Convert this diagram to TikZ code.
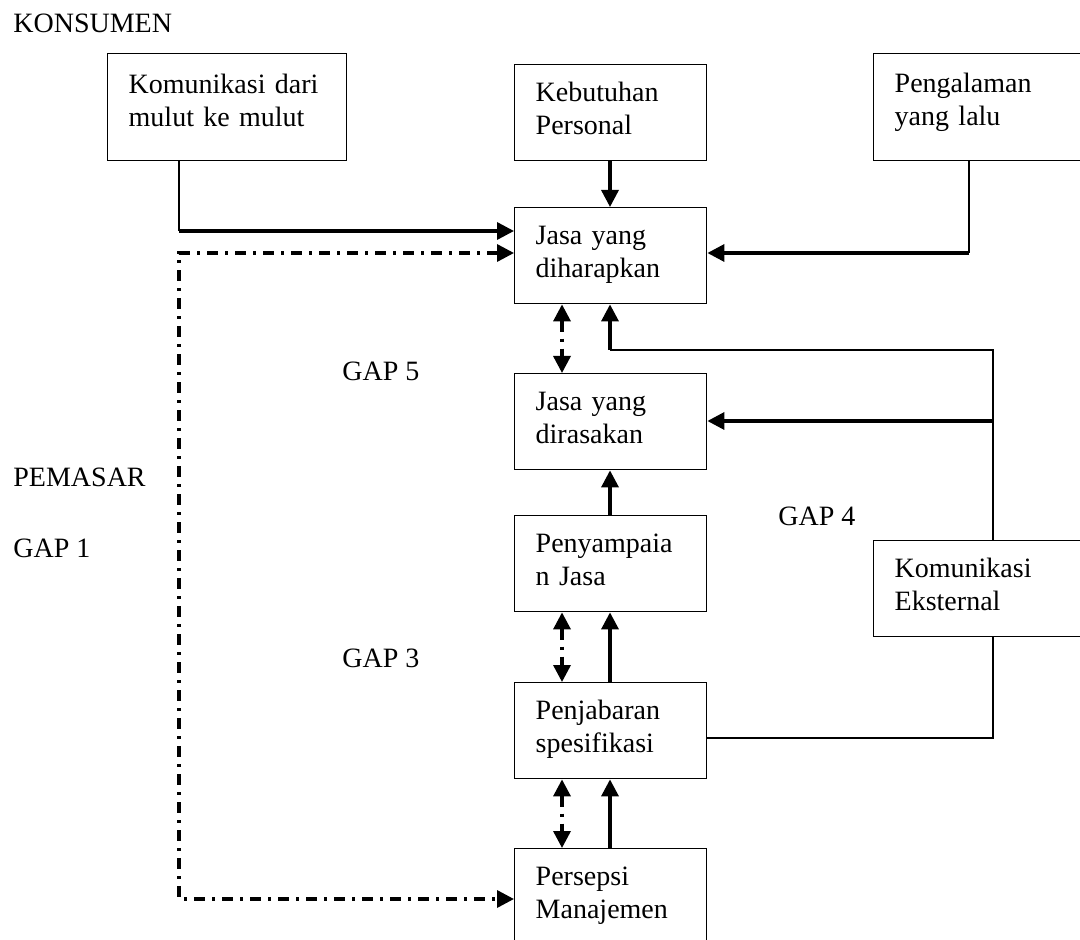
\documentclass[tikz,border=0pt]{standalone}
\usepackage{fontspec}
\setmainfont{Liberation Serif}
\usetikzlibrary{arrows.meta}
\usetikzlibrary{positioning}

\tikzset{
  kotak/.style={draw, line width=0.7pt, anchor=north west, align=left,
    inner xsep=10.5pt, inner ysep=0pt, text height=18.5pt, text depth=29.5pt,
    text width=75pt},
  garis/.style={line width=0.65pt},
  tebal/.style={line width=1.7pt},
  panah/.style={tebal, -{Triangle[length=8.5pt,width=8.5pt]}},
  gap/.style={tebal, dash pattern=on 5.5pt off 3.5pt on 1.5pt off 3.5pt,
    {Triangle[length=8.5pt,width=8.5pt]}-{Triangle[length=8.5pt,width=8.5pt]}},
  teks/.style={anchor=base west, inner sep=0pt}
}

\begin{document}
\begin{tikzpicture}[x=0.5pt, y=-0.5pt, font=\fontsize{14}{16.5}\selectfont]
      \useasboundingbox (0,0) rectangle (1080,940);

      % kotak-kotak
      \node[kotak, text width=98.5pt, text height=20pt, text depth=33.5pt] (mulut) at (107,53) {Komunikasi dari\\mulut ke mulut};
      \node[kotak] (personal) at (514,64) {Kebutuhan\\Personal};
      \node[kotak, text width=90pt, text height=19.5pt, text depth=34pt] (lalu) at (873,53) {Pengalaman\\yang lalu};
      \node[kotak] (harap) at (514,207) {Jasa yang\\diharapkan};
      \node[kotak] (rasa) at (514,373) {Jasa yang\\dirasakan};
      \node[kotak] (sampai) at (514,515) {Penyampaia\\n Jasa};
      \node[kotak] (jabar) at (514,682) {Penjabaran\\spesifikasi};
      \node[kotak, text depth=50pt] (persepsi) at (514,848) {Persepsi\\Manajemen};
      \node[kotak, text width=90pt] (eksternal) at (873,540) {Komunikasi\\Eksternal};

      % tulisan
      \node[teks] (konsumen) at (13,33) {KONSUMEN};
      \node[teks] (pemasar) at (13,486) {PEMASAR};
      \node[teks] (gap1) at (13,557) {GAP 1};
      \node[teks] (gap5) at (342,381) {GAP 5};
      \node[teks] (gap4) at (778,525) {GAP 4};
      \node[teks] (gap3) at (342,667) {GAP 3};

      \coordinate (kolkiri) at (562,0);
      \coordinate (kolkanan) at (610,0);
      \coordinate (belok1) at (179,231);
      \coordinate (belok2) at (969,253);
      \coordinate (belok3) at (993,350);
      \coordinate (belok4) at (993,421);
      \coordinate (belok5) at (993,738);
      \coordinate (sudutatas) at (179,253);
      \coordinate (sudutbawah) at (179,899);

      % ke jasa yang diharapkan
      \draw[garis] (mulut.south -| belok1) -- (belok1);
      \draw[panah] (belok1) -- (belok1 -| harap.west);
      \draw[panah] (personal.south -| kolkanan) -- (harap.north -| kolkanan);
      \draw[garis] (lalu.south -| belok2) -- (belok2);
      \draw[panah] (belok2) -- (belok2 -| harap.east);

      % komunikasi eksternal
      \draw[garis] (eksternal.north -| belok3) -- (belok3) -- (belok3 -| kolkanan);
      \draw[panah] (belok3 -| kolkanan) -- (harap.south -| kolkanan);
      \draw[panah] (belok4) -- (belok4 -| rasa.east);
      \draw[garis] (eksternal.south -| belok5) -- (belok5) -- (belok5 -| jabar.east);

      % gap 1
      \draw[gap] (sudutatas -| harap.west) -- (sudutatas) -- (sudutbawah) -- (sudutbawah -| persepsi.west);

      % kolom tengah
      \draw[gap] (harap.south -| kolkiri) -- (rasa.north -| kolkiri);
      \draw[panah] (sampai.north -| kolkanan) -- (rasa.south -| kolkanan);
      \draw[gap] (sampai.south -| kolkiri) -- (jabar.north -| kolkiri);
      \draw[panah] (jabar.north -| kolkanan) -- (sampai.south -| kolkanan);
      \draw[gap] (jabar.south -| kolkiri) -- (persepsi.north -| kolkiri);
      \draw[panah] (persepsi.north -| kolkanan) -- (jabar.south -| kolkanan);
\end{tikzpicture}
\end{document}
